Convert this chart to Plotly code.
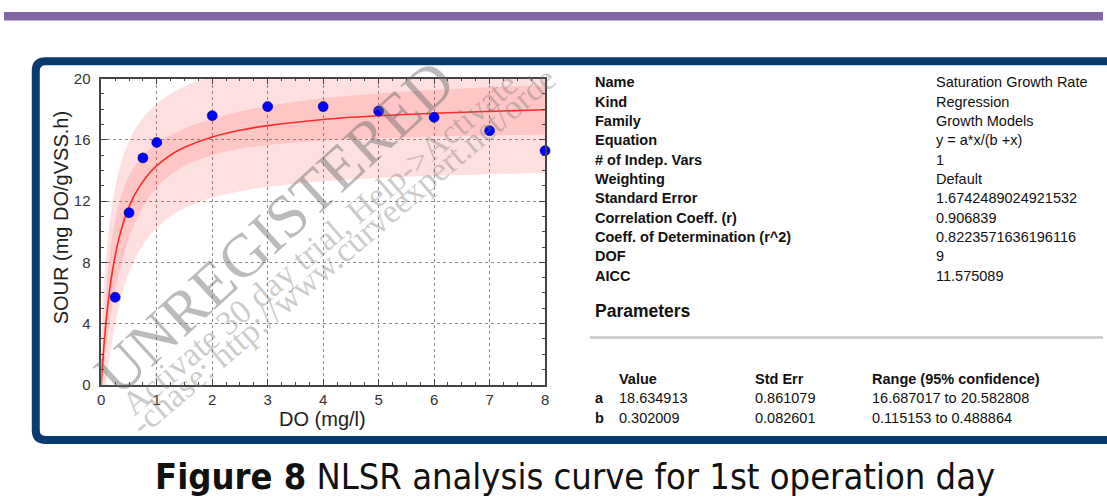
import plotly.graph_objects as go

W, H = 1107, 504

# ---- data ----
do_mgl = [0.25, 0.5, 0.75, 1, 2, 3, 4, 5, 6, 7, 8]
sour = [5.72, 11.24, 14.82, 15.83, 17.58, 18.17, 18.17, 17.88, 17.47, 16.59, 15.29]

curve_x = [0, 0.01, 0.025, 0.05, 0.1, 0.15, 0.2, 0.3, 0.4, 0.5, 0.6, 0.8, 1.0,
           1.25, 1.5, 2, 2.5, 3, 4, 5, 6, 7, 8]
curve_fit = [0, 0.60, 1.42, 2.65, 4.64, 6.18, 7.42, 9.29, 10.62, 11.62, 12.40, 13.53,
             14.31, 15.01, 15.51, 16.19, 16.63, 16.93, 17.33, 17.57, 17.74, 17.86, 17.96]
conf_half = [0, 0.32, 0.72, 1.22, 1.84, 2.14, 2.27, 2.29, 2.17, 2.02, 1.87, 1.62,
             1.43, 1.29, 1.22, 1.18, 1.22, 1.27, 1.38, 1.46, 1.52, 1.57, 1.61]
pred_half = [3.79, 3.80, 3.85, 3.98, 4.21, 4.35, 4.42, 4.43, 4.37, 4.29, 4.22, 4.12,
             4.05, 4.00, 3.98, 3.97, 3.98, 4.00, 4.03, 4.06, 4.08, 4.10, 4.12]

x_ticks = [0, 1, 2, 3, 4, 5, 6, 7, 8]
y_ticks = [0, 4, 8, 12, 16, 20]

info_labels = ["Name", "Kind", "Family", "Equation", "# of Indep. Vars", "Weighting",
               "Standard Error", "Correlation Coeff. (r)", "Coeff. of Determination (r^2)",
               "DOF", "AICC"]
info_values = ["Saturation Growth Rate", "Regression", "Growth Models", "y = a*x/(b +x)",
               "1", "Default", "1.6742489024921532", "0.906839", "0.8223571636196116",
               "9", "11.575089"]
param_headers = ["Value", "Std Err", "Range (95% confidence)"]
param_names = ["a", "b"]
param_values = ["18.634913", "0.302009"]
param_stderr = ["0.861079", "0.082601"]
param_range = ["16.687017 to 20.582808", "0.115153 to 0.488864"]

caption_bold = "Figure 8"
caption_rest = " NLSR analysis curve for 1st operation day"


def X(px):
    return px / W


def Y(py):
    return 1 - py / H


pred_lo = [f - h for f, h in zip(curve_fit, pred_half)]
pred_hi = [f + h for f, h in zip(curve_fit, pred_half)]
conf_lo = [f - h for f, h in zip(curve_fit, conf_half)]
conf_hi = [f + h for f, h in zip(curve_fit, conf_half)]

band_fill = "rgba(255,60,60,0.16)"

fig = go.Figure()
fig.add_trace(go.Scatter(x=curve_x, y=pred_lo, mode="lines", line=dict(width=0, shape="spline"),
                         hoverinfo="skip"))
fig.add_trace(go.Scatter(x=curve_x, y=pred_hi, mode="lines", line=dict(width=0, shape="spline"),
                         fill="tonexty", fillcolor=band_fill, hoverinfo="skip"))
fig.add_trace(go.Scatter(x=curve_x, y=conf_lo, mode="lines", line=dict(width=0, shape="spline"),
                         hoverinfo="skip"))
fig.add_trace(go.Scatter(x=curve_x, y=conf_hi, mode="lines", line=dict(width=0, shape="spline"),
                         fill="tonexty", fillcolor=band_fill, hoverinfo="skip"))
fig.add_trace(go.Scatter(x=curve_x, y=curve_fit, mode="lines",
                         line=dict(color="#ff2b2b", width=1.6, shape="spline")))
fig.add_trace(go.Scatter(x=do_mgl, y=sour, mode="markers", cliponaxis=False,
                         marker=dict(color="#0000ff", size=10,
                                     line=dict(color="#00008b", width=0.6))))

sans = "Liberation Sans, Arial, sans-serif"
serif = "Liberation Serif, Times New Roman, serif"

axis_common = dict(
    showline=True, linecolor="#444444", linewidth=1.5, mirror="ticks",
    ticks="inside", ticklen=6, tickwidth=1, tickcolor="#444444",
    showgrid=True, gridcolor="#8c8c8c", gridwidth=1, griddash="dot",
    zeroline=False, fixedrange=True,
    tickfont=dict(family=sans, size=15, color="#333333"),
)

fig.update_layout(
    width=W, height=H, margin=dict(l=0, r=0, t=0, b=0),
    paper_bgcolor="white", plot_bgcolor="white", showlegend=False,
    xaxis=dict(domain=[X(98), X(545)], range=[0, 8], tickvals=x_ticks,
               minor=dict(dtick=0.25, ticks="inside", ticklen=3, tickcolor="#444444", showgrid=False),
               ticklabelstandoff=0, **axis_common),
    yaxis=dict(domain=[Y(389), Y(72)], range=[0, 20], tickvals=y_ticks,
               minor=dict(dtick=1, ticks="inside", ticklen=3, tickcolor="#444444", showgrid=False),
               ticklabelstandoff=6, **axis_common),
)

shapes = []
# purple top bar
shapes.append(dict(type="rect", xref="paper", yref="paper", x0=0, x1=1, y0=Y(12), y1=Y(3),
                   fillcolor="#8266a3", line=dict(width=0), layer="above"))
# navy frame with rounded left corners
r = 10
path = (f"M {X(1125)},{Y(54)} L {X(32 + r)},{Y(54)} Q {X(32)},{Y(54)} {X(32)},{Y(54 + r)} "
        f"L {X(32)},{Y(446 - r)} Q {X(32)},{Y(446)} {X(32 + r)},{Y(446)} L {X(1125)},{Y(446)}")
shapes.append(dict(type="path", xref="paper", yref="paper", path=path,
                   line=dict(color="#0b3b6e", width=8), layer="above"))
# grey separator line
shapes.append(dict(type="line", xref="paper", yref="paper", x0=X(590), x1=1, y0=Y(340), y1=Y(340),
                   line=dict(color="#c8c8c8", width=2.5), layer="above"))
fig.update_layout(shapes=shapes)

ann = []


def add_text(text, px, py, size, family=sans, color="#111111", xanchor="left", angle=0):
    ann.append(dict(text=text, x=X(px), y=Y(py), xref="paper", yref="paper",
                    xanchor=xanchor, yanchor="middle", showarrow=False, textangle=angle,
                    font=dict(family=family, size=size, color=color)))


# watermark
add_text("UNREGISTERED", 272, 226, 61, serif, "rgba(105,105,105,0.45)", "center", -42.5)
add_text("Activate 30 day trial, Help->Activate", 318, 243, 34, serif,
         "rgba(120,120,120,0.38)", "center", -40.5)
add_text("-chase: http://www.curveexpert.net/orde", 341, 251, 34, serif,
         "rgba(120,120,120,0.38)", "center", -40.5)

# axis titles
add_text("DO (mg/l)", 321, 424, 20, sans, "#222222", "center")
add_text("SOUR (mg DO/gVSS.h)", 57, 216, 20, sans, "#222222", "center", -90)

# info table
for i, (lab, val) in enumerate(zip(info_labels, info_values)):
    yy = 76 + 20 * i
    add_text(f"<b>{lab}</b>", 593, yy, 14.5)
    add_text(val, 937, yy, 14.5)

add_text("<b>Parameters</b>", 593, 313, 17.5)

col_x = [617, 754, 872]
for cx, h in zip(col_x, param_headers):
    add_text(f"<b>{h}</b>", cx, 383, 14.5)
for i in range(len(param_names)):
    yy = 403 + 20 * i
    add_text(f"<b>{param_names[i]}</b>", 593, yy, 14.5)
    for cx, txt in zip(col_x, [param_values[i], param_stderr[i], param_range[i]]):
        add_text(txt, cx, yy, 14.5)

# caption
add_text(f"<b>{caption_bold}</b>{caption_rest}", 575, 484, 36,
         "DejaVu Sans Condensed, DejaVu Sans, sans-serif", "#111111", "center")

fig.update_layout(annotations=ann)
fig.write_html("out.html")
